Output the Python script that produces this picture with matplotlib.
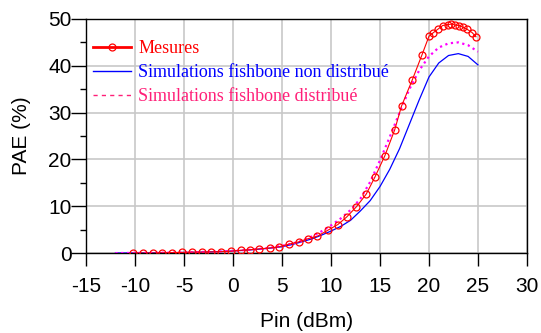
import matplotlib
matplotlib.use("Agg")
import matplotlib.pyplot as plt
from matplotlib.lines import Line2D
from matplotlib.ticker import MultipleLocator

plt.rcParams["axes.unicode_minus"] = False

# measured PAE (red circles)
pin_mes = [-10.2, -9.2, -8.2, -7.2, -6.2, -5.2, -4.2, -3.2, -2.2, -1.2, -0.2,
           0.8, 1.7, 2.7, 3.8, 4.7, 5.7, 6.7, 7.7, 8.6, 9.7,
           10.7, 11.6, 12.6, 13.6, 14.5, 15.5, 16.5, 17.2, 18.3, 19.3,
           20.0, 20.4, 20.9, 21.4, 21.9, 22.3, 22.7, 23.1, 23.5, 23.9, 24.4, 24.8]
pae_mes = [0.0, 0.0, 0.0, 0.05, 0.1, 0.15, 0.2, 0.2, 0.25, 0.3, 0.4,
           0.6, 0.7, 0.9, 1.1, 1.35, 1.9, 2.4, 3.1, 3.6, 4.9,
           6.1, 7.7, 9.9, 12.6, 16.3, 20.8, 26.3, 31.4, 37.0, 42.4,
           46.3, 47.0, 47.8, 48.6, 48.8, 48.9, 48.7, 48.6, 48.2, 47.8, 47.1, 46.2]

# simulations
pin_sim = list(range(-12, 26))
pae_non_distrib = [0.0, 0.0, 0.02, 0.04, 0.06, 0.08, 0.1, 0.13, 0.17, 0.22, 0.28, 0.35,
                   0.45, 0.57, 0.72, 0.9, 1.1, 1.35, 1.8, 2.4, 3.0, 3.8, 4.7, 5.7,
                   7.0, 9.0, 11.2, 14.2, 17.9, 22.3, 27.5, 32.7, 37.6, 40.6, 42.2, 42.6,
                   42.0, 40.2]
pae_distrib = [0.0, 0.02, 0.03, 0.05, 0.07, 0.09, 0.12, 0.15, 0.19, 0.24, 0.3, 0.37,
               0.47, 0.6, 0.75, 0.95, 1.2, 1.55, 2.0, 2.6, 3.5, 4.6, 5.9, 7.4,
               9.2, 11.6, 15.2, 19.8, 24.8, 30.0, 35.0, 39.0, 42.0, 43.9, 44.8, 45.0,
               44.4, 43.0]

red = "#ff0000"
blue = "#0000ff"
magenta = "#ff00ff"
pink = "#ff1f78"

fig = plt.figure(figsize=(5.41, 3.33), dpi=100)
fig.subplots_adjust(left=0.159, right=0.974, bottom=0.240, top=0.943)
ax = fig.add_subplot(111)

ax.plot(pin_sim, pae_non_distrib, "-", color=blue, lw=0.9, zorder=3)
ax.plot(pin_sim, pae_distrib, color=magenta, lw=1.6, ls=(0, (1, 1.6)), zorder=4)
ax.plot(pin_mes, pae_mes, "-", color=red, lw=0.8, marker="o", ms=5,
        mfc="none", mec=red, mew=0.9, zorder=5)

ax.set_xlim(-15, 30)
ax.set_ylim(0, 50)
ax.xaxis.set_major_locator(MultipleLocator(5))
ax.yaxis.set_major_locator(MultipleLocator(10))
ax.yaxis.set_minor_locator(MultipleLocator(5))
ax.grid(True, which="major", color="#c8c8c8", lw=1.2)
ax.set_axisbelow(True)

for s in ax.spines.values():
    s.set_color("black")
    s.set_linewidth(1.0)

tick_font = {"family": "Liberation Sans", "size": 15}
ax.tick_params(axis="x", which="major", direction="out", length=9, width=1.0, pad=8)
ax.tick_params(axis="y", which="major", direction="out", length=10.5, width=1.0, pad=0)
ax.tick_params(axis="y", which="minor", direction="out", length=4.5, width=1.0)
for lab in ax.get_xticklabels() + ax.get_yticklabels():
    lab.set_fontfamily("Liberation Sans")
    lab.set_fontsize(15)

ax.set_xlabel("Pin (dBm)", fontdict=tick_font, labelpad=12)
ax.set_ylabel("PAE (%)", fontdict=tick_font, labelpad=12)

handles = [
    Line2D([], [], color=red, lw=2, marker="o", ms=5, mfc="none", mec=red, mew=0.9),
    Line2D([], [], color=blue, lw=1),
    Line2D([], [], color=pink, lw=1, ls=(0, (3, 3))),
]
labels = ["Mesures", "Simulations fishbone non distribué", "Simulations fishbone distribué"]
leg = ax.legend(handles, labels, loc="upper left", bbox_to_anchor=(0.016, 0.91),
                frameon=False, borderpad=0, borderaxespad=0, numpoints=1,
                handlelength=2.1, handletextpad=0.4, labelspacing=0.4,
                prop={"family": "Liberation Serif", "size": 13})
for txt, c in zip(leg.get_texts(), [red, blue, pink]):
    txt.set_color(c)

fig.savefig("out.png", dpi=100)
